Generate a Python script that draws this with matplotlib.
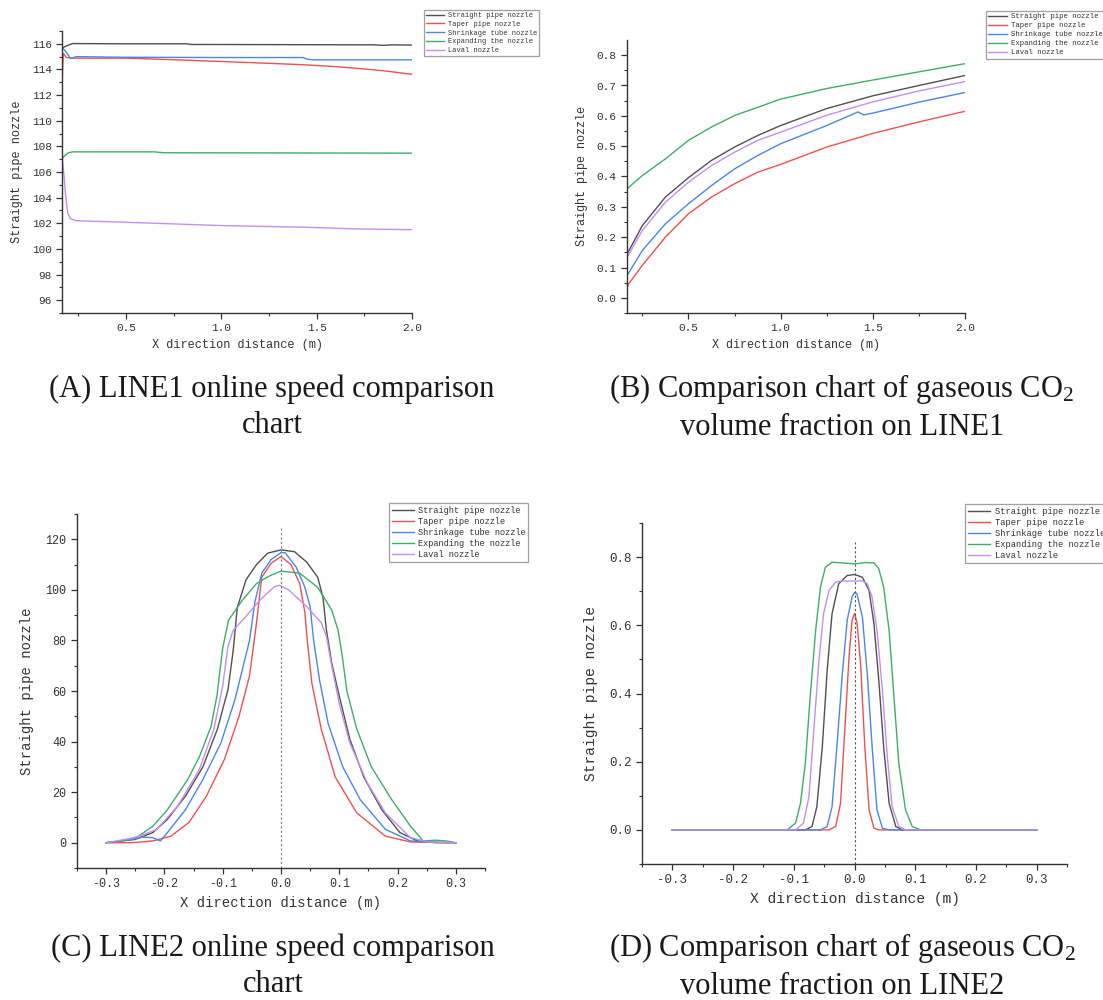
import matplotlib
matplotlib.use("Agg")
import matplotlib.pyplot as plt

# ---------------- data ----------------
series_names = ["Straight pipe nozzle", "Taper pipe nozzle", "Shrinkage tube nozzle",
                "Expanding the nozzle", "Laval nozzle"]
series_colors = ["#505050", "#F05050", "#4A86E8", "#3DAE6A", "#C38EF0"]

# Panel A: LINE1 speed
a_straight_x = [0.165, 0.175, 0.19, 0.22, 0.5, 0.82, 0.84, 1.2, 1.5, 1.8, 1.85, 1.9, 2.0]
a_straight_y = [115.5, 115.75, 115.85, 116.02, 116.0, 116.0, 115.95, 115.94, 115.93, 115.92, 115.88, 115.92, 115.9]
a_taper_x = [0.165, 0.168, 0.172, 0.19, 0.22, 0.5, 0.75, 1.0, 1.25, 1.44, 1.6, 1.71, 1.85, 2.0]
a_taper_y = [112.7, 114.0, 115.25, 114.92, 114.88, 114.88, 114.76, 114.62, 114.48, 114.36, 114.22, 114.09, 113.9, 113.62]
a_shrink_x = [0.165, 0.18, 0.21, 0.24, 0.5, 1.0, 1.43, 1.45, 1.48, 2.0]
a_shrink_y = [115.7, 115.5, 114.85, 115.0, 114.95, 114.93, 114.93, 114.8, 114.75, 114.75]
a_expand_x = [0.165, 0.18, 0.2, 0.22, 0.65, 0.7, 1.2, 2.0]
a_expand_y = [107.0, 107.3, 107.5, 107.57, 107.57, 107.5, 107.49, 107.47]
a_laval_x = [0.165, 0.175, 0.185, 0.195, 0.21, 0.24, 0.5, 1.0, 1.44, 1.71, 2.0]
a_laval_y = [107.3, 105.8, 104.0, 102.8, 102.35, 102.2, 102.08, 101.82, 101.69, 101.56, 101.5]

# Panel B: LINE1 CO2 volume fraction
b_x = [0.168, 0.25, 0.375, 0.5, 0.625, 0.75, 0.875, 1.0, 1.25, 1.5, 1.75, 2.0]
b_straight = [0.145, 0.238, 0.332, 0.396, 0.453, 0.497, 0.535, 0.568, 0.624, 0.666, 0.70, 0.733]
b_taper = [0.035, 0.107, 0.2, 0.277, 0.332, 0.376, 0.414, 0.44, 0.497, 0.542, 0.58, 0.615]
b_taper_x = [0.168, 0.176, 0.25, 0.375, 0.5, 0.625, 0.75, 0.875, 1.0, 1.25, 1.5, 1.75, 2.0]
b_taper = [0.035, 0.046, 0.107, 0.2, 0.277, 0.332, 0.376, 0.414, 0.44, 0.497, 0.542, 0.58, 0.615]
b_shrink_x = [0.168, 0.25, 0.375, 0.5, 0.625, 0.75, 0.875, 1.0, 1.25, 1.42, 1.45, 1.5, 1.75, 2.0]
b_shrink = [0.074, 0.156, 0.244, 0.31, 0.37, 0.425, 0.469, 0.508, 0.568, 0.613, 0.603, 0.609, 0.645, 0.677]
b_expand = [0.36, 0.403, 0.458, 0.519, 0.563, 0.601, 0.628, 0.655, 0.69, 0.718, 0.745, 0.772]
b_laval = [0.134, 0.222, 0.315, 0.381, 0.436, 0.48, 0.519, 0.546, 0.602, 0.646, 0.682, 0.713]

# Panel C: LINE2 speed
c_straight_x = [-0.3, -0.25, -0.22, -0.195, -0.164, -0.134, -0.109, -0.091, -0.082, -0.075, -0.06, -0.042, -0.023, 0.0,
                0.023, 0.044, 0.063, 0.072, 0.078, 0.087, 0.1, 0.118, 0.142, 0.173, 0.204, 0.234, 0.265, 0.3]
c_straight_y = [0, 1.3, 4, 9.2, 18.4, 30, 45, 60.5, 76, 93, 104, 110, 114.5, 115.8,
                115.1, 111, 105, 97, 84, 71, 58, 41, 26, 13, 4, 0.7, 0, 0]
c_taper_x = [-0.3, -0.256, -0.22, -0.189, -0.158, -0.128, -0.097, -0.072, -0.054, -0.042, -0.033, -0.017, 0.0,
             0.017, 0.032, 0.041, 0.045, 0.053, 0.069, 0.093, 0.13, 0.179, 0.222, 0.3]
c_taper_y = [0, 0, 0.7, 2.6, 8, 18.4, 33, 50, 66, 87, 105, 110.5, 113.2,
             110, 102.6, 91, 80, 63, 45, 26, 11.8, 2.6, 0.3, 0]
c_shrink_x = [-0.3, -0.256, -0.238, -0.22, -0.207, -0.195, -0.164, -0.134, -0.103, -0.079, -0.054, -0.045, -0.033,
              -0.017, 0.0, 0.007, 0.026, 0.041, 0.05, 0.056, 0.066, 0.081, 0.106, 0.136, 0.179, 0.222, 0.253, 0.3]
c_shrink_y = [0, 1.3, 2.2, 2.0, 0.7, 4, 13, 25, 39.5, 56.6, 80, 95, 106.6,
              112, 114.7, 114.7, 109, 101, 93.4, 80, 64.5, 47, 30, 17, 5.3, 0.7, 0.3, 0]
c_expand_x = [-0.3, -0.27, -0.245, -0.22, -0.195, -0.16, -0.14, -0.12, -0.11, -0.1, -0.09, -0.066, -0.042, -0.02, 0.0,
              0.032, 0.063, 0.087, 0.098, 0.105, 0.113, 0.13, 0.155, 0.19, 0.222, 0.244, 0.265, 0.283, 0.3]
c_expand_y = [0, 0.8, 2.5, 6.5, 13, 25, 34, 46, 58, 77, 88, 96, 102.5, 105.5, 107.4,
              106.6, 101, 92, 84, 74, 60, 45, 30, 17, 6.6, 0.7, 1.0, 0.7, 0]
c_laval_x = [-0.3, -0.25, -0.213, -0.177, -0.14, -0.115, -0.1, -0.091, -0.082, -0.06, -0.036, -0.011, -0.003,
             0.013, 0.044, 0.069, 0.078, 0.087, 0.1, 0.118, 0.148, 0.179, 0.222, 0.253, 0.3]
c_laval_y = [0, 2, 5.3, 14.5, 29, 45, 62, 77.6, 84, 89.5, 96, 101.3, 101.8,
             100, 93.4, 87, 81.6, 70, 55, 39.5, 23.7, 11.8, 2, 0.3, 0]

# Panel D: LINE2 CO2 volume fraction
d_straight_x = [-0.3, -0.081, -0.07, -0.062, -0.053, -0.045, -0.037, -0.026, -0.012, 0.0, 0.013, 0.024, 0.032,
                0.04, 0.048, 0.057, 0.068, 0.079, 0.3]
d_straight_y = [0, 0, 0.01, 0.068, 0.244, 0.468, 0.634, 0.722, 0.746, 0.749, 0.741, 0.702, 0.605,
                0.439, 0.244, 0.078, 0.01, 0, 0]
d_taper_x = [-0.3, -0.042, -0.031, -0.023, -0.016, -0.009, -0.004, 0.0, 0.004, 0.01, 0.017, 0.024, 0.032, 0.04, 0.3]
d_taper_y = [0, 0, 0.01, 0.078, 0.293, 0.507, 0.615, 0.634, 0.61, 0.488, 0.244, 0.059, 0.005, 0, 0]
d_shrink_x = [-0.3, -0.056, -0.045, -0.037, -0.029, -0.02, -0.012, -0.004, 0.0, 0.004, 0.013, 0.021, 0.029,
              0.037, 0.046, 0.057, 0.3]
d_shrink_y = [0, 0, 0.01, 0.068, 0.244, 0.459, 0.615, 0.683, 0.696, 0.693, 0.624, 0.459, 0.244,
              0.059, 0.005, 0, 0]
d_expand_x = [-0.3, -0.111, -0.097, -0.089, -0.081, -0.073, -0.064, -0.056, -0.048, -0.037, -0.02, 0.0, 0.018,
              0.032, 0.04, 0.048, 0.057, 0.065, 0.073, 0.084, 0.095, 0.109, 0.3]
d_expand_y = [0, 0, 0.02, 0.078, 0.195, 0.39, 0.585, 0.712, 0.77, 0.785, 0.783, 0.78, 0.784,
              0.783, 0.766, 0.712, 0.585, 0.39, 0.195, 0.059, 0.01, 0, 0]
d_laval_x = [-0.3, -0.097, -0.084, -0.075, -0.067, -0.059, -0.051, -0.042, -0.031, -0.02, 0.013, 0.021, 0.029,
             0.037, 0.046, 0.054, 0.062, 0.073, 0.084, 0.3]
d_laval_y = [0, 0, 0.02, 0.098, 0.293, 0.488, 0.634, 0.702, 0.727, 0.73, 0.73, 0.722, 0.683,
             0.585, 0.41, 0.215, 0.068, 0.01, 0, 0]

captions = [
    "(A) LINE1 online speed comparison\nchart",
    "(B) Comparison chart of gaseous CO$_2$\nvolume fraction on LINE1",
    "(C) LINE2 online speed comparison\nchart",
    "(D) Comparison chart of gaseous CO$_2$\nvolume fraction on LINE2",
]
xlabel_text = "X direction distance (m)"
ylabel_text = "Straight pipe nozzle"

# ---------------- style ----------------
plt.rcParams["mathtext.fontset"] = "custom"
plt.rcParams["mathtext.rm"] = "Liberation Serif"
plt.rcParams["mathtext.it"] = "Liberation Serif"
plt.rcParams["axes.unicode_minus"] = False
MONO = "Liberation Mono"
W, H = 1103, 1000
fig = plt.figure(figsize=(W / 100, H / 100), dpi=100)


def rect(l, t, r, b):
    return [l / W, 1 - b / H, (r - l) / W, (b - t) / H]


def style_axes(ax, tick_fs, label_fs, ylabel_pad):
    for s in ("top", "right"):
        ax.spines[s].set_visible(False)
    for s in ("left", "bottom"):
        ax.spines[s].set_color("#333333")
        ax.spines[s].set_linewidth(1.0)
    ax.tick_params(which="major", direction="out", length=4, width=0.9, color="#333333",
                   labelsize=tick_fs, labelcolor="#333333")
    ax.tick_params(which="minor", direction="out", length=2, width=0.8, color="#333333")
    for lab in ax.get_xticklabels() + ax.get_yticklabels():
        lab.set_fontfamily(MONO)
    ax.set_xlabel(xlabel_text, fontfamily=MONO, fontsize=label_fs, color="#333333", labelpad=4)
    ax.set_ylabel(ylabel_text, fontfamily=MONO, fontsize=label_fs, color="#333333", labelpad=ylabel_pad)


def add_legend(ax, l, t, fs, handlelen):
    leg = ax.legend(loc="upper left", bbox_to_anchor=(l / W, 1 - t / H), bbox_transform=fig.transFigure,
                    borderaxespad=0, frameon=True, fancybox=False, edgecolor="#888888",
                    prop={"family": MONO, "size": fs}, handlelength=handlelen,
                    labelspacing=0.25, borderpad=0.3, handletextpad=0.5)
    leg.get_frame().set_linewidth(0.9)
    for t_ in leg.get_texts():
        t_.set_color("#333333")
    return leg


def plot_series(ax, xs, ys):
    for x, y, c, n in zip(xs, ys, series_colors, series_names):
        ax.plot(x, y, color=c, lw=1.0, label=n)


# Panel A
axA = fig.add_axes(rect(62, 31, 412, 313))
plot_series(axA, [a_straight_x, a_taper_x, a_shrink_x, a_expand_x, a_laval_x],
            [a_straight_y, a_taper_y, a_shrink_y, a_expand_y, a_laval_y])
axA.set_xlim(0.165, 2.0)
axA.set_ylim(95, 117)
axA.set_xticks([0.5, 1.0, 1.5, 2.0])
axA.set_xticks([0.25, 0.75, 1.25, 1.75], minor=True)
axA.set_yticks(range(96, 117, 2))
axA.set_yticks(range(95, 118, 2), minor=True)
style_axes(axA, 8, 8.6, 6)
add_legend(axA, 424, 10, 5.0, 2.6)

# Panel B
axB = fig.add_axes(rect(627, 40, 965, 313))
plot_series(axB, [b_x, b_taper_x, b_shrink_x, b_x, b_x], [b_straight, b_taper, b_shrink, b_expand, b_laval])
axB.set_xlim(0.167, 2.0)
axB.set_ylim(-0.05, 0.85)
axB.set_xticks([0.5, 1.0, 1.5, 2.0])
axB.set_xticks([0.25, 0.75, 1.25, 1.75], minor=True)
axB.set_yticks([0.0, 0.1, 0.2, 0.3, 0.4, 0.5, 0.6, 0.7, 0.8])
axB.set_yticks([-0.05, 0.05, 0.15, 0.25, 0.35, 0.45, 0.55, 0.65, 0.75], minor=True)
style_axes(axB, 8, 8.5, 6)
add_legend(axB, 986, 11, 5.3, 2.6)

# Panel C
axC = fig.add_axes(rect(77, 514, 485, 868))
plot_series(axC, [c_straight_x, c_taper_x, c_shrink_x, c_expand_x, c_laval_x],
            [c_straight_y, c_taper_y, c_shrink_y, c_expand_y, c_laval_y])
axC.axvline(0, ymin=0, ymax=0.964, color="#777777", lw=0.8, ls=(0, (2, 2)))
axC.set_xlim(-0.35, 0.35)
axC.set_ylim(-10, 130)
axC.set_xticks([-0.3, -0.2, -0.1, 0.0, 0.1, 0.2, 0.3])
axC.set_xticks([-0.35, -0.25, -0.15, -0.05, 0.05, 0.15, 0.25, 0.35], minor=True)
axC.set_yticks(range(0, 121, 20))
axC.set_yticks(range(-10, 131, 10), minor=True)
style_axes(axC, 8.5, 10, 8)
add_legend(axC, 389, 503, 6.2, 2.6)

# Panel D
axD = fig.add_axes(rect(642, 523, 1067, 864))
plot_series(axD, [d_straight_x, d_taper_x, d_shrink_x, d_expand_x, d_laval_x],
            [d_straight_y, d_taper_y, d_shrink_y, d_expand_y, d_laval_y])
axD.axvline(0, ymin=0, ymax=0.944, color="#555555", lw=0.8, ls=(0, (2, 2)))
axD.set_xlim(-0.35, 0.35)
axD.set_ylim(-0.1, 0.9)
axD.set_xticks([-0.3, -0.2, -0.1, 0.0, 0.1, 0.2, 0.3])
axD.set_xticks([-0.35, -0.25, -0.15, -0.05, 0.05, 0.15, 0.25, 0.35], minor=True)
axD.set_yticks([0.0, 0.2, 0.4, 0.6, 0.8])
axD.set_yticks([-0.1, 0.1, 0.3, 0.5, 0.7, 0.9], minor=True)
style_axes(axD, 9, 10.5, 8)
add_legend(axD, 965, 504, 6.3, 2.6)

# Captions
cap_pos = [(272, 407), (842, 407), (273, 966), (842, 966)]
for (cx, cy), txt in zip(cap_pos, captions):
    fig.text(cx / W, 1 - cy / H, txt, ha="center", va="center", fontfamily="Liberation Serif",
             fontsize=22, color="#1a1a1a", linespacing=1.3)

fig.savefig("out.png", dpi=100)
